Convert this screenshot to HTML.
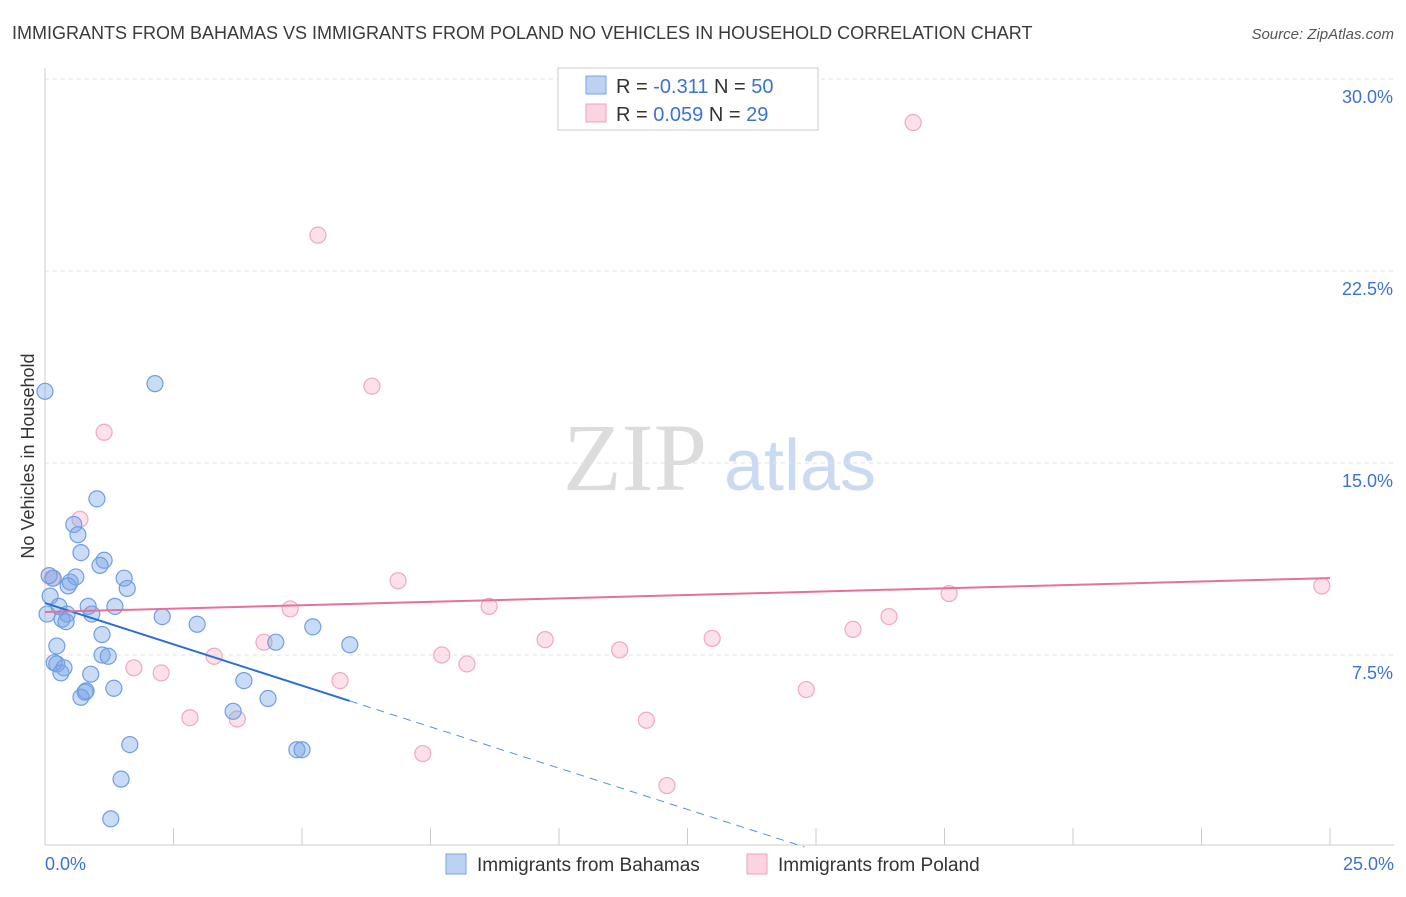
<!DOCTYPE html>
<html><head><meta charset="utf-8">
<style>
body{margin:0;background:#fff;font-family:"Liberation Sans",sans-serif;}
svg text{font-family:"Liberation Sans",sans-serif;}
</style></head>
<body>
<svg id="chart" width="1406" height="892" xmlns="http://www.w3.org/2000/svg">
<text x="12" y="39" font-size="18" fill="#3a3a3a">IMMIGRANTS FROM BAHAMAS VS IMMIGRANTS FROM POLAND NO VEHICLES IN HOUSEHOLD CORRELATION CHART</text>
<text x="1394" y="39" font-size="15" fill="#555" text-anchor="end" font-style="italic">Source: ZipAtlas.com</text>
<g>
<text x="635" y="490" font-size="96" fill="#dcdcdc" text-anchor="middle" font-family="Liberation Serif" style="font-family:'Liberation Serif',serif">ZIP</text>
<text x="800" y="490" font-size="72" fill="#c9daf2" text-anchor="middle">atlas</text>
</g>
<g id="grid"></g>
<g id="axes"></g>
<g id="marks"></g>
<text transform="translate(34,456) rotate(-90)" font-size="18" fill="#333" text-anchor="middle">No Vehicles in Household</text>
<g>
<rect x="558" y="68" width="260" height="62" fill="#fff" stroke="#ccc"/>
<rect x="586" y="76" width="20" height="18" fill="rgba(120,165,230,0.5)" stroke="#7aa6e8"/>
<rect x="586" y="104" width="20" height="18" fill="rgba(245,170,195,0.5)" stroke="#f0a0bb"/>
<text x="616" y="93" font-size="20" fill="#333">R = <tspan fill="#3b73d0">-0.311</tspan>   N = <tspan fill="#3b73d0">50</tspan></text>
<text x="616" y="121" font-size="20" fill="#333">R = <tspan fill="#3b73d0">0.059</tspan>   N = <tspan fill="#3b73d0"> 29</tspan></text>
</g>
<g>
<rect x="446" y="854" width="20" height="20" fill="rgba(120,165,230,0.5)" stroke="#7aa6e8"/>
<text x="477" y="871" font-size="19" fill="#333">Immigrants from Bahamas</text>
<rect x="747" y="854" width="20" height="20" fill="rgba(245,170,195,0.5)" stroke="#f0a0bb"/>
<text x="778" y="871" font-size="19" fill="#333">Immigrants from Poland</text>
</g>
</svg>
<script>
const yTicks=[7.5,15.0,22.5,30.0];
const yTickLabels=["7.5%","15.0%","22.5%","30.0%"];
const xTicks=[0,2.5,5,7.5,10,12.5,15,17.5,20,22.5,25];
const xEndLabels=["0.0%","25.0%"];
const bahamasX=[0,2.14,1.01,0.56,0.64,0.70,1.15,1.07,1.54,0.16,0.6,0.49,0.45,1.6,0.1,0.27,0.84,1.36,0.43,0.91,0.04,0.33,0.41,2.28,2.96,5.21,1.11,4.49,5.93,0.23,1.11,1.23,0.18,0.23,0.37,0.31,0.89,3.87,1.34,0.78,0.70,4.34,3.66,1.65,4.90,5.0,1.48,1.28,0.8,0.08];
const bahamasY=[17.8,18.1,13.6,12.6,12.2,11.5,11.2,11.0,10.5,10.5,10.55,10.35,10.2,10.1,9.8,9.4,9.4,9.4,9.1,9.1,9.1,8.9,8.8,9.0,8.7,8.6,8.3,8.0,7.9,7.85,7.5,7.45,7.2,7.15,7.0,6.8,6.75,6.5,6.2,6.05,5.85,5.8,5.3,4.0,3.8,3.8,2.65,1.1,6.1,10.6];
const polandX=[16.89,5.31,6.36,1.15,0.68,0.14,6.87,24.84,17.59,8.64,4.77,16.42,15.72,9.73,12.98,4.26,11.18,7.72,3.29,8.21,1.73,2.26,5.74,14.81,2.82,3.74,11.70,7.35,12.1];
const polandY=[28.3,23.9,18.0,16.2,12.8,10.5,10.4,10.2,9.9,9.4,9.3,9.0,8.5,8.1,8.15,8.0,7.7,7.5,7.45,7.15,7.0,6.8,6.5,6.15,5.05,5.0,4.95,3.65,2.4];
const bahamasTrend=[9.53,-0.645];
const polandTrend=[9.18,0.053];
const NS="http://www.w3.org/2000/svg";
function xs(v){return 45+v*(1330-45)/25;}
function ys(v){return 847-v*25.6;}
function mk(tag,attrs,parent){const e=document.createElementNS(NS,tag);for(const k in attrs)e.setAttribute(k,attrs[k]);parent.appendChild(e);return e;}
const grid=document.getElementById('grid'),axes=document.getElementById('axes'),marks=document.getElementById('marks');
yTicks.forEach((t,i)=>{
 const l=mk('line',{x1:45,x2:1394,y1:ys(t),y2:ys(t),stroke:'#e2e2e2','stroke-dasharray':'4,4'},grid);
 
 
 const tx=mk('text',{x:1393,y:ys(t)+24,'font-size':18,fill:'#3b73d0','text-anchor':'end'},axes);
 tx.textContent=yTickLabels[i];
 
 
});
const ax=mk('line',{x1:45,x2:1394,y1:845,y2:845,stroke:'#ccc'},axes);


const ay=mk('line',{x1:45,x2:45,y1:68,y2:845,stroke:'#ccc'},axes);


xTicks.forEach(t=>{
 const l=mk('line',{x1:xs(t),x2:xs(t),y1:828,y2:845,stroke:'#ccc'},axes);
 
 
});
const xl0=mk('text',{x:45,y:870,'font-size':18,fill:'#3b73d0'},axes);xl0.textContent=xEndLabels[0];


const xl1=mk('text',{x:1394,y:870,'font-size':18,fill:'#3b73d0','text-anchor':'end'},axes);xl1.textContent=xEndLabels[1];


polandX.forEach((v,i)=>{
 const c=mk('circle',{cx:xs(v),cy:ys(polandY[i]),r:8,fill:'rgba(245,170,195,0.35)',stroke:'#f0a8c0','stroke-width':1.2},marks);
 
 
});
bahamasX.forEach((v,i)=>{
 const c=mk('circle',{cx:xs(v),cy:ys(bahamasY[i]),r:8,fill:'rgba(120,165,230,0.4)',stroke:'#6f9ee6','stroke-width':1.2},marks);
 
 
});
const bMax=Math.max(...bahamasX);
const bEnd=-bahamasTrend[0]/bahamasTrend[1];
const bl=mk('line',{x1:xs(0),y1:ys(bahamasTrend[0]),x2:xs(bMax),y2:ys(bahamasTrend[0]+bahamasTrend[1]*bMax),stroke:'#2a6fd6','stroke-width':2},marks);


const bd=mk('line',{x1:xs(bMax),y1:ys(bahamasTrend[0]+bahamasTrend[1]*bMax),x2:xs(bEnd),y2:ys(0),stroke:'#5b8fe0','stroke-width':1,'stroke-dasharray':'8,6'},marks);


const pl=mk('line',{x1:xs(0),y1:ys(polandTrend[0]),x2:xs(25),y2:ys(polandTrend[0]+polandTrend[1]*25),stroke:'#e8709a','stroke-width':2},marks);


</script>
</body></html>
